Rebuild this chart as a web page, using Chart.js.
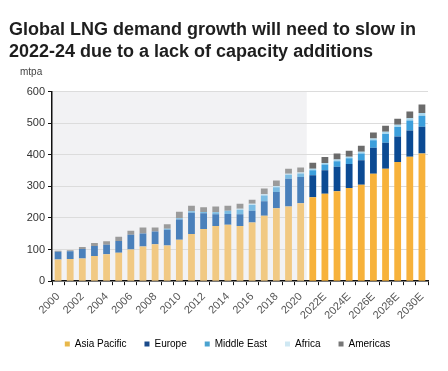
<!DOCTYPE html>
<html>
<head>
<meta charset="utf-8">
<script src="https://cdn.jsdelivr.net/npm/chart.js@4.4.1/dist/chart.umd.min.js"></script>
<style>
html,body{margin:0;padding:0;background:#fff;}
#wrap{width:448px;height:371px;position:relative;}
</style>
</head>
<body>
<div id="wrap"><canvas id="c" width="448" height="371"></canvas></div>
<script>
const categories = ["2000","2001","2002","2003","2004","2005","2006","2007","2008","2009","2010",
  "2011","2012","2013","2014","2015","2016","2017","2018","2019","2020",
  "2021E","2022E","2023E","2024E","2025E","2026E","2027E","2028E","2029E","2030E"];
const asiaPacific = [69,70,72,80,85,90,100,110,117,113,131,149,165,175,179,175,186,207,231,236,247,
  266,277,285,295,305,340,356,377,394,404];
const europe = [24,25,30,31,30,37,47,41,40,50,64,68,50,37,34,37,37,46,51,88,83,
  69,74,77,76,78,82,82,81,83,85];
const middleEast = [0,0,0,0,0,0,0,0,0,3,4,4,4,6,10,14,18,18,15,13,11,
  16,18,18,18,21,24,28,30,32,35];
const africa = [0,0,0,0,0,0,0,0,0,0,0,0,0,0,0,3,4,4,4,3,3,
  5,5,5,5,6,6,7,7,7,8];
const americas = [3,3,6,10,11,14,13,19,13,14,21,18,15,18,16,16,13,18,18,16,16,
  19,19,19,19,19,19,19,19,21,27];
const yTicks = [0,100,200,300,400,500,600];
const lastHistoricIndex = 20;

const palette = {
  ap:  ["#f1c983", "#f7b23b"],
  eu:  ["#4a80bb", "#0b4a93"],
  me:  ["#7bbce3", "#3c9fdc"],
  af:  ["#c4e2f1", "#a9d8ef"],
  am:  ["#9b9b9b", "#6b6b6b"]
};
const legendColors = ["#e8b84a", "#1a4a8a", "#4aa3d0", "#cfe8f3", "#777777"];
function cols(p){ return categories.map((c,i)=> i>lastHistoricIndex ? p[1] : p[0]); }
const FONT = '"Liberation Sans", Arial, sans-serif';

const shadePlugin = {
  id:'shade',
  beforeDraw(chart){
    const {ctx, chartArea, scales} = chart;
    const x = scales.x;
    const xEnd = (x.getPixelForValue(lastHistoricIndex) + x.getPixelForValue(lastHistoricIndex+1))/2;
    ctx.save();
    ctx.fillStyle = '#f2f2f4';
    ctx.fillRect(chartArea.left, chartArea.top, xEnd - chartArea.left, chartArea.bottom - chartArea.top);
    ctx.restore();
    if (chart.legend && !chart.legend._shifted) {
      const L = chart.legend;
      L.left += 9; L.right += 9; L.top -= 6; L.bottom -= 6; L._shifted = true;
    }
  },
  afterDraw(chart){
    const {ctx, chartArea} = chart;
    ctx.save();
    ctx.fillStyle = '#444';
    ctx.font = '10px ' + FONT;
    ctx.textAlign = 'left';
    ctx.textBaseline = 'alphabetic';
    ctx.fillText('mtpa', chartArea.left - 32, chartArea.top - 17);
    ctx.restore();
  }
};

const ds = (label, data, p, i) => ({label, data, backgroundColor: cols(p), legendColor: legendColors[i],
  barPercentage: 0.56, categoryPercentage: 1.0, borderWidth: 0});

new Chart(document.getElementById('c'), {
  type: 'bar',
  data: {
    labels: categories,
    datasets: [
      ds('Asia Pacific', asiaPacific, palette.ap, 0),
      ds('Europe', europe, palette.eu, 1),
      ds('Middle East', middleEast, palette.me, 2),
      ds('Africa', africa, palette.af, 3),
      ds('Americas', americas, palette.am, 4)
    ]
  },
  options: {
    responsive: false,
    animation: false,
    devicePixelRatio: 1,
    layout: {padding: {left: 9, right: 20, top: 4, bottom: 6}},
    plugins: {
      title: {
        display: true,
        text: ['Global LNG demand growth will need to slow in', '2022-24 due to a lack of capacity additions'],
        align: 'start',
        color: '#1e1e1e',
        font: {family: FONT, size: 18, weight: 'bold', lineHeight: 1.24},
        padding: {top: 15, bottom: 28}
      },
      legend: {
        position: 'bottom',
        labels: {
          boxWidth: 5, boxHeight: 5, padding: 18,
          color: '#444',
          font: {family: FONT, size: 10},
          generateLabels(chart){
            return chart.data.datasets.map((d,i)=>({text: d.label, fillStyle: d.legendColor, strokeStyle: d.legendColor, lineWidth: 0, datasetIndex: i, hidden: false}));
          }
        }
      },
      tooltip: {enabled: false}
    },
    scales: {
      x: {
        stacked: true,
        grid: {display: true, drawOnChartArea: false, drawTicks: true, tickLength: 4, color: '#111', offset: true},
        border: {display: true, color: '#111', width: 1.5},
        ticks: {
          autoSkip: false, minRotation: 45, maxRotation: 45, color: '#555', padding: 5,
          font: {family: FONT, size: 11},
          callback(v, i){ return i % 2 === 0 ? categories[i] : ''; }
        }
      },
      y: {
        stacked: true,
        min: 0, max: 600,
        afterBuildTicks(axis){ axis.ticks = yTicks.map(v=>({value:v})); },
        afterFit(scale){ scale.width = 43; },
        grid: {color: '#dcdcdc', drawTicks: true, tickLength: 4, tickColor: '#111'},
        border: {display: true, color: '#111', width: 1.5},
        ticks: {color: '#333', padding: 3, font: {family: FONT, size: 11}}
      }
    }
  },
  plugins: [shadePlugin]
});
</script>
</body>
</html>
